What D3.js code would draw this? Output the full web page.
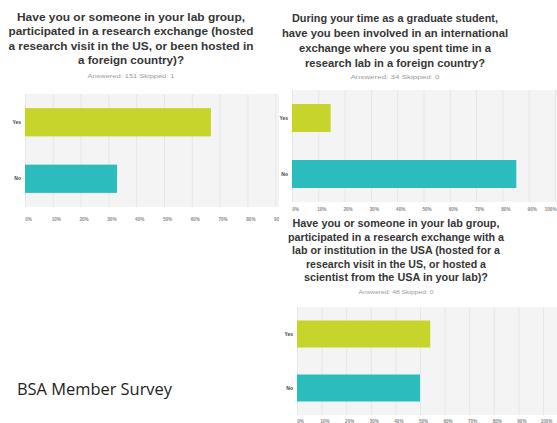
<!DOCTYPE html>
<html><head><meta charset="utf-8">
<script src="https://cdn.jsdelivr.net/npm/d3@7"></script>
<style>body{margin:0;background:#fff}svg{display:block}</style>
</head><body><svg id="c" width="557" height="423"></svg>
<script>
const categories = ["Yes", "No"];
const values1 = [66.89, 33.11];
const values2 = [14.71, 85.29];
const values3 = [54.17, 50.00];
const tickValues = [0, 10, 20, 30, 40, 50, 60, 70, 80, 90, 100];
const title1 = ["Have you or someone in your lab group,", "participated in a research exchange (hosted", "a research visit in the US, or been hosted in", "a foreign country)?"];
const title2 = ["During your time as a graduate student,", "have you been involved in an international", "exchange where you spent time in a", "research lab in a foreign country?"];
const title3 = ["Have you or someone in your lab group,", "participated in a research exchange with a", "lab or institution in the USA (hosted for a", "research visit in the US, or hosted a", "scientist from the USA in your lab)?"];
const sub1 = "Answered: 151   Skipped: 1";
const sub2 = "Answered: 34   Skipped: 0";
const sub3 = "Answered: 48   Skipped: 0";
const footer = "BSA Member Survey";

const colors = ["#c6d42c", "#2cbcbe"];
const svg = d3.select("#c");

function chart(cfg) {
  const g = svg.append("g");
  const clipId = "clip" + cfg.id;
  svg.append("clipPath").attr("id", clipId).append("rect")
    .attr("x", cfg.clip[0]).attr("y", cfg.clip[1]).attr("width", cfg.clip[2]).attr("height", cfg.clip[3]);
  const cg = g.append("g").attr("clip-path", `url(#${clipId})`);

  cfg.title.forEach((t, i) => {
    g.append("text").attr("x", cfg.tx).attr("y", cfg.ty + i * cfg.tdy)
      .attr("text-anchor", "middle").attr("font-family", "Liberation Sans, Arial, sans-serif")
      .attr("font-weight", "bold").attr("font-size", cfg.tfs).attr("fill", "#363636")
      .attr("textLength", cfg.tw[i]).attr("lengthAdjust", "spacingAndGlyphs").text(t);
  });
  g.append("text").attr("x", cfg.tx).attr("y", cfg.sy).attr("text-anchor", "middle")
    .attr("font-family", "Liberation Sans, Arial, sans-serif").attr("font-size", 5)
    .attr("fill", "#9a9a9a").attr("textLength", cfg.sw).attr("lengthAdjust", "spacingAndGlyphs").text(cfg.sub);

  const x = d3.scaleLinear().domain([0, 100]).range([cfg.x0, cfg.x1]);
  const y = d3.scaleBand().domain(categories).range([cfg.y0, cfg.y1]).paddingInner(0.5).paddingOuter(0.25);

  cg.append("rect").attr("x", cfg.x0).attr("y", cfg.y0).attr("width", 600).attr("height", cfg.y1 - cfg.y0).attr("fill", "#f4f4f4");
  const grid = cg.append("g").attr("transform", `translate(0,${cfg.y1})`)
    .call(d3.axisBottom(x).tickValues(tickValues).tickSize(-(cfg.y1 - cfg.y0)).tickFormat(""));
  grid.select(".domain").remove();
  grid.selectAll("line").attr("stroke", "#e6e6e6");

  cg.selectAll("rect.bar").data(cfg.values).join("rect").attr("class", "bar")
    .attr("x", x(0)).attr("y", (d, i) => y(categories[i]))
    .attr("width", d => x(d) - x(0)).attr("height", y.bandwidth())
    .attr("fill", (d, i) => colors[i]);

  const ax = cg.append("g").attr("transform", `translate(3,${cfg.ly})`)
    .call(d3.axisBottom(x).tickValues(tickValues).tickSize(0).tickPadding(0).tickFormat(d => d + "%"));
  ax.select(".domain").remove();
  ax.selectAll("text").attr("font-family", "Liberation Sans, Arial, sans-serif").attr("font-size", 4.6)
    .attr("fill", "#8a8a8a").attr("dy", 0).attr("font-weight", "bold");
  if (cfg.lastEnd) {
    ax.selectAll(".tick").filter(d => d === 100).select("text")
      .attr("text-anchor", "end").attr("x", 556 - 3 - x(100));
  }

  const ay = g.append("g").attr("transform", `translate(${cfg.x0 - 4},0)`)
    .call(d3.axisLeft(y).tickSize(0).tickPadding(0));
  ay.select(".domain").remove();
  ay.selectAll("text").attr("font-family", "Liberation Sans, Arial, sans-serif").attr("font-size", 5)
    .attr("font-weight", "bold").attr("fill", "#444");
}

chart({id: 1, title: title1, tx: 131, ty: 21, tdy: 14.3, tfs: 11.5, tw: [228, 245, 245, 106],
  sub: sub1, sy: 78, sw: 87, x0: 25, x1: 303, y0: 94, y1: 207, ly: 221, clip: [0, 80, 279, 160], values: values1});
chart({id: 2, title: title2, tx: 395, ty: 22, tdy: 15, tfs: 11, tw: [206, 226, 192, 180],
  sub: sub2, sy: 79, sw: 89, x0: 292, x1: 555, y0: 90, y1: 202, ly: 211, clip: [279, 80, 278, 140], values: values2, lastEnd: true});
chart({id: 3, title: title3, tx: 396, ty: 227, tdy: 13.5, tfs: 10.5, tw: [207, 216, 208, 180, 184],
  sub: sub3, sy: 294, sw: 75, x0: 297, x1: 543, y0: 307, y1: 415, ly: 423, clip: [279, 300, 278, 130], values: values3});

svg.append("text").attr("x", 17).attr("y", 395).attr("font-family", "Open Sans, sans-serif")
  .attr("font-size", 16).attr("fill", "#222").attr("textLength", 155).attr("lengthAdjust", "spacingAndGlyphs").text(footer);
</script></body></html>
